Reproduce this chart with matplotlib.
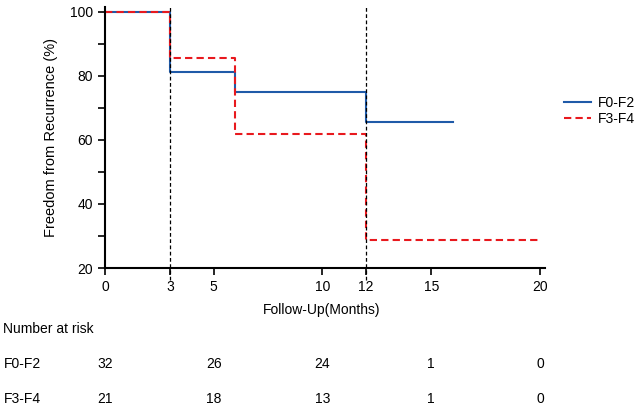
import matplotlib
matplotlib.use('Agg')

import matplotlib.pyplot as plt
import matplotlib.transforms as mtransforms

plt.rcParams['font.family'] = ['Liberation Sans', 'DejaVu Sans']

# Kaplan-Meier step data (time in months, survival in %)
f02_time = [0, 3, 6, 12, 16]
f02_surv = [100, 81.25, 75.0, 65.6, 65.6]
f34_time = [0, 3, 6, 12, 20]
f34_surv = [100, 85.7, 61.9, 28.6, 28.6]

landmarks = [3, 12]
x_ticks = [0, 3, 5, 10, 12, 15, 20]
y_ticks = [20, 40, 60, 80, 100]

risk_groups = ['F0-F2', 'F3-F4']
risk_times = [0, 5, 10, 15, 20]
risk_f02 = [32, 26, 24, 1, 0]
risk_f34 = [21, 18, 13, 1, 0]

fig = plt.figure(figsize=(6.42, 4.05), dpi=100)
ax = fig.add_axes([105 / 642, 137 / 405, 440 / 642, 261 / 405])

ax.step(f02_time, f02_surv, where='post', color='#1f5aa8', lw=1.5, label='F0-F2')
ax.step(f34_time, f34_surv, where='post', color='#e8191e', lw=1.5,
        ls=(0, (3.5, 2)), label='F3-F4')

# landmark lines run a little below the axis
for x in landmarks:
    ax.plot([x, x], [16.3, 101.5], color='black', lw=0.9, ls=(0, (3, 2)),
            clip_on=False, zorder=3)

ax.set_xlim(0, 20.23)
ax.set_ylim(20, 101.56)
ax.set_xticks(x_ticks)
ax.set_yticks(y_ticks)
ax.set_yticks([30, 50, 70, 90], minor=True)
ax.tick_params(axis='both', which='major', direction='out', length=5,
               width=1.2, labelsize=10, colors='black')
ax.tick_params(axis='y', which='minor', direction='out', length=5, width=1.2)
for s in ['top', 'right']:
    ax.spines[s].set_visible(False)
for s in ['left', 'bottom']:
    ax.spines[s].set_linewidth(1.5)
    ax.spines[s].set_color('black')

ax.set_ylabel('Freedom from Recurrence (%)', fontsize=10.5, labelpad=9)
fig.text(322 / 642, 1 - 310 / 405, 'Follow-Up(Months)', ha='center',
         va='center', fontsize=10)

fig.legend(loc='upper left', bbox_to_anchor=(558 / 642, 1 - 90 / 405),
           frameon=False, fontsize=10, handlelength=2.0, labelspacing=0.15,
           handletextpad=0.5, borderaxespad=0)

# number at risk table, columns follow the time axis
fig.text(3 / 642, 1 - 329 / 405, 'Number at risk', ha='left', va='center',
         fontsize=10)
trans = mtransforms.blended_transform_factory(ax.transData, fig.transFigure)
for y_px, name, vals in zip([364, 399], risk_groups, [risk_f02, risk_f34]):
    y = 1 - y_px / 405
    fig.text(4 / 642, y, name, ha='left', va='center', fontsize=10)
    for t, v in zip(risk_times, vals):
        ax.text(t, y, str(v), transform=trans, ha='center', va='center',
                fontsize=10, clip_on=False)

fig.savefig('out.png', dpi=100)
